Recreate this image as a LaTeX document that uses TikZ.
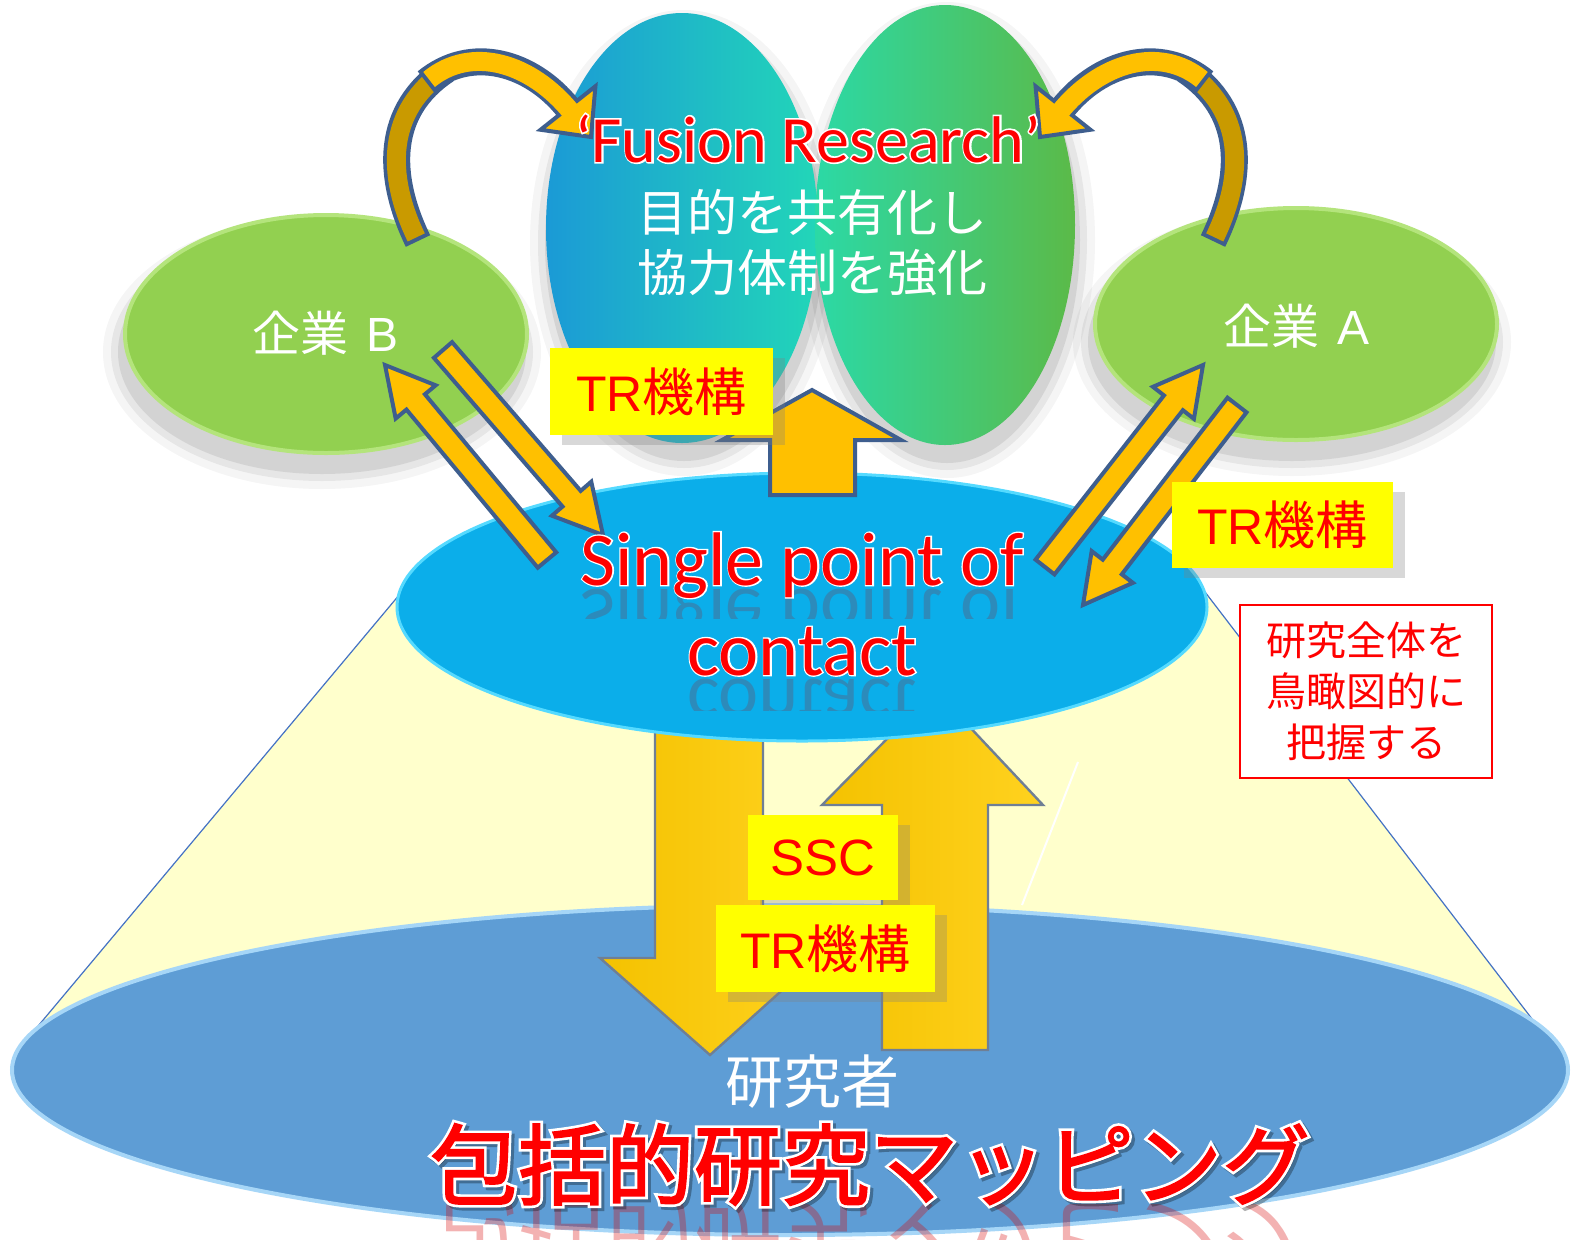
\documentclass[tikz,border=0pt]{standalone}
\usepackage{fontspec}
\setmainfont{Liberation Sans}
\newfontfamily\jpfont{Noto Sans CJK JP}
\newfontfamily\jpboldfont[FakeBold=2]{Noto Sans CJK JP}
\newfontfamily\jpboldwide[FakeBold=8]{Noto Sans CJK JP}
\newfontfamily\calfont{Carlito}
\newfontfamily\calwidea[FakeBold=5]{Carlito}
\newfontfamily\calwideb[FakeBold=3.5]{Carlito}
\usetikzlibrary{calc,shadows,shapes.geometric}

\definecolor{arrowor}{HTML}{FFC000}
\definecolor{arrowdk}{HTML}{C99A00}
\definecolor{arrowln}{HTML}{3E5E8E}
\definecolor{compgreen}{HTML}{92D050}
\definecolor{compgreenrim}{HTML}{B4E47C}
\definecolor{midblue}{HTML}{0BAEEA}
\definecolor{midrim}{HTML}{55DAFF}
\definecolor{botblue}{HTML}{5E9DD5}
\definecolor{botrim}{HTML}{A6D6F7}
\definecolor{paleyel}{HTML}{FFFFCC}
\definecolor{boxyel}{HTML}{FFFF00}
\definecolor{txtred}{HTML}{FF0000}
\definecolor{conegray}{HTML}{4472C4}
\definecolor{goldA}{HTML}{F4C200}
\definecolor{goldB}{HTML}{FFD21F}
\definecolor{vline}{HTML}{6F7F95}
\definecolor{tealA}{HTML}{1B9AD6}
\definecolor{tealB}{HTML}{22D6B8}
\definecolor{greenA}{HTML}{2BD9A6}
\definecolor{greenB}{HTML}{5BBA48}

\newcommand\myblockarrow[6]{%
  \coordinate (hb) at ($(#3)!#6!(#2)$);
  \draw[#1] ($(#2)!#4!90:(#3)$) -- ($(hb)!#4!90:(#3)$) -- ($(hb)!#5!90:(#3)$) -- (#3)
     -- ($(hb)!#5!-90:(#3)$) -- ($(hb)!#4!-90:(#3)$) -- ($(#2)!#4!-90:(#3)$) -- cycle;}
\newcommand\trlabel{{\fontsize{25pt}{30pt}\selectfont TR}{\jpfont\fontsize{26pt}{30pt}\selectfont 機構}}

\tikzset{
  ellnode/.style={ellipse, inner sep=0pt},
  blockarr/.style={fill=arrowor, draw=arrowln, line width=2pt, line join=miter},
  vertarr/.style={left color=goldA, right color=goldB, draw=vline, line width=1.2pt, line join=miter},
  yelbox/.style={fill=boxyel, inner sep=0pt, text=txtred, drop shadow={shadow xshift=6pt, shadow yshift=-5pt, opacity=0.3}},
  bandout/.style={arrowln, line width=13.5pt},
  bandback/.style={arrowdk, line width=9.5pt},
  bandfront/.style={arrowor, line width=9.5pt},
  headtri/.style={fill=arrowor, draw=arrowln, line width=2pt, line join=miter},
  plaintext/.style={inner sep=0pt},
}

\begin{document}
\begin{tikzpicture}[x=0.5pt,y=-0.5pt]
\clip (0,0) rectangle (1575,1239);
\fill[white] (0,0) rectangle (1575,1239);

% cone
\fill[paleyel] (405,588) -- (1192,575) -- (1565,1062) -- (18,1050) -- cycle;
\draw[conegray, line width=0.6pt] (405,588) -- (18,1050);
\draw[conegray, line width=0.6pt] (1192,575) -- (1565,1062);
\draw[white, line width=1pt] (1078,762) -- (1022,905);

% bottom ellipse
\node[ellnode, fill=botblue, draw=botrim, line width=2pt, minimum width=778pt, minimum height=165pt] (bottom) at (790,1070) {};

% vertical arrows
\draw[vertarr] (655,700) -- (655,958) -- (600,958) -- (710,1055) -- (818,958) -- (763,958) -- (763,700) -- cycle;
\draw[vertarr] (882,1050) -- (882,805) -- (822,805) -- (935,690) -- (1043,805) -- (988,805) -- (988,1050) -- cycle;

\node[yelbox, minimum width=75pt, minimum height=42.5pt, font=\fontsize{25.5pt}{30pt}\selectfont] (ssc) at (823,857.5) {SSC};
\node[yelbox, minimum width=109.5pt, minimum height=43.5pt] (trthree) at (825.5,948.5) {\trlabel};

% middle ellipse
\node[ellnode, fill=midblue, draw=midrim, line width=1.5pt, minimum width=405pt, minimum height=134pt] (spc) at (802,607) {};

% shadows
\foreach \o/\e in {0.04/18, 0.06/10, 0.08/3}{
  \fill[black, opacity=\o] (322,352) ellipse ({201+\e} and {119+\e});
  \fill[black, opacity=\o] (1292,342) ellipse ({201+\e} and {116+\e});
  \fill[black, opacity=\o] (684,243) ellipse ({136+\e} and {215+\e});
  \fill[black, opacity=\o] (947,240) ellipse ({130+\e} and {220+\e});
}

% company ellipses
\node[ellnode, fill=compgreen, draw=compgreenrim, line width=2pt, minimum width=201pt, minimum height=119pt] (compb) at (326,334) {};
\node[ellnode, fill=compgreen, draw=compgreenrim, line width=2pt, minimum width=201pt, minimum height=116pt] (compa) at (1296,324) {};

% top ellipses
\node[ellnode, left color=tealA, right color=tealB, minimum width=136pt, minimum height=215pt] (fusl) at (682,228) {};
\node[ellnode, left color=greenA, right color=greenB, minimum width=130pt, minimum height=220pt] (fusr) at (945,225) {};

% top up arrow
\draw[blockarr] (770,495) -- (770,440) -- (722,440) -- (812,390) -- (901,440) -- (855,440) -- (855,495) -- cycle;

\node[yelbox, minimum width=111.5pt, minimum height=43.5pt] (trone) at (661.5,391.5) {\trlabel};

% curved arrow right (A -> fusion)
\coordinate (rct) at (1213,241);
\coordinate (rch) at (1063,108);
\coordinate (rctip) at (1040,137);
\draw[bandout] (rct) .. controls (1245,175) and (1245,110) .. (1185,70);
\draw[bandback, shorten <=2pt] (rct) .. controls (1245,175) and (1245,110) .. (1185,70);
\draw[bandout] (1205,82) .. controls (1160,45) and (1100,62) .. (rch);
\draw[headtri] ($(rch)!17.5pt!90:(rctip)$) -- (rctip) -- ($(rch)!17.5pt!-90:(rctip)$) -- cycle;
\draw[bandfront, shorten <=2pt, shorten >=-3pt] (1205,82) .. controls (1160,45) and (1100,62) .. (rch);

% curved arrow left (B -> fusion)
\coordinate (lct) at (418,241);
\coordinate (lch) at (568,108);
\coordinate (lctip) at (591,137);
\draw[bandout] (lct) .. controls (386,175) and (386,110) .. (446,70);
\draw[bandback, shorten <=2pt] (lct) .. controls (386,175) and (386,110) .. (446,70);
\draw[bandout] (426,82) .. controls (471,45) and (531,62) .. (lch);
\draw[headtri] ($(lch)!17.5pt!90:(lctip)$) -- (lctip) -- ($(lch)!17.5pt!-90:(lctip)$) -- cycle;
\draw[bandfront, shorten <=2pt, shorten >=-3pt] (426,82) .. controls (471,45) and (531,62) .. (lch);

% diagonal arrows
\coordinate (bupt) at (547,560); \coordinate (buph) at (385,365);
\coordinate (bdnt) at (443,350); \coordinate (bdnh) at (603,535);
\coordinate (aupt) at (1045,567); \coordinate (auph) at (1203,365);
\coordinate (adnt) at (1237,405); \coordinate (adnh) at (1083,605);
\myblockarrow{blockarr}{bupt}{buph}{6pt}{13pt}{24pt}
\myblockarrow{blockarr}{bdnt}{bdnh}{6pt}{13pt}{24pt}
\myblockarrow{blockarr}{aupt}{auph}{6pt}{13pt}{24pt}
\myblockarrow{blockarr}{adnt}{adnh}{6pt}{13pt}{24pt}

\node[yelbox, minimum width=110.5pt, minimum height=43pt] (trtwo) at (1282.5,525) {\trlabel};

% note box
\node[draw=txtred, fill=white, line width=0.8pt, minimum width=126pt, minimum height=86.5pt, align=center, text=txtred, inner sep=0pt, font=\jpfont\fontsize{20pt}{25.5pt}\selectfont] (note) at (1366,691.5) {研究全体を\\鳥瞰図的に\\把握する};

% top texts
\node[plaintext, anchor=base, text=white, font=\calwidea\fontsize{33pt}{36pt}\selectfont] (fusoutline) at (808,162) {‘Fusion Research’};
\node[plaintext, anchor=base, text=txtred, font=\calfont\fontsize{33pt}{36pt}\selectfont] (fustitle) at (808,162) {‘Fusion Research’};
\node[plaintext, text=white, font=\jpfont\fontsize{25pt}{30pt}\selectfont] (fusone) at (812,212) {目的を共有化し};
\node[plaintext, text=white, font=\jpfont\fontsize{25pt}{30pt}\selectfont] (fustwo) at (812,273) {協力体制を強化};

\node[plaintext, text=white, font=\fontsize{24pt}{30pt}\selectfont] (compbtext) at (326,333) {{\jpfont 企業}\hspace{9pt}B};
\node[plaintext, text=white, font=\fontsize{24pt}{30pt}\selectfont] (compatext) at (1296,326) {{\jpfont 企業}\hspace{9pt}A};

% single point of contact (with faint reflection)
\begin{scope}
\clip (560,588) rectangle (1045,618) (660,678) rectangle (940,710);
\node[plaintext, anchor=base, yscale=-1, opacity=0.2, text=txtred!70!black, font=\calfont\fontsize{38pt}{40pt}\selectfont] (spcrefla) at (802,589) {Single point of};
\node[plaintext, anchor=base, yscale=-1, opacity=0.2, text=txtred!70!black, font=\calfont\fontsize{38pt}{40pt}\selectfont] (spcreflb) at (802,679) {contact};
\end{scope}
\node[plaintext, anchor=base, text=white, font=\calwideb\fontsize{38pt}{40pt}\selectfont] (spcoutlinea) at (802,585) {Single point of};
\node[plaintext, anchor=base, text=txtred, font=\calfont\fontsize{38pt}{40pt}\selectfont] (spcone) at (802,585) {Single point of};
\node[plaintext, anchor=base, text=white, font=\calwideb\fontsize{38pt}{40pt}\selectfont] (spcoutlineb) at (802,675) {contact};
\node[plaintext, anchor=base, text=txtred, font=\calfont\fontsize{38pt}{40pt}\selectfont] (spctwo) at (802,675) {contact};

% bottom texts
\node[plaintext, text=white, font=\jpfont\fontsize{29pt}{34pt}\selectfont] (researcher) at (812,1082) {研究者};

\begin{scope}
\clip (400,1204) rectangle (1330,1239);
\node[plaintext, anchor=base, yscale=-1, opacity=0.3, text=txtred!85!black, font=\jpfont\fontsize{44pt}{50pt}\selectfont] (maprefl) at (870,1204) {包括的研究マッピング};
\end{scope}
\node[plaintext, anchor=base, text=black, opacity=0.3, font=\jpboldwide\fontsize{44pt}{50pt}\selectfont] (mapshadow) at (873,1201) {包括的研究マッピング};
\node[plaintext, anchor=base, text=white, font=\jpboldwide\fontsize{44pt}{50pt}\selectfont] (mapoutline) at (870,1198) {包括的研究マッピング};
\node[plaintext, anchor=base, text=txtred, font=\jpboldfont\fontsize{44pt}{50pt}\selectfont] (maptitle) at (870,1198) {包括的研究マッピング};
\end{tikzpicture}
\end{document}
